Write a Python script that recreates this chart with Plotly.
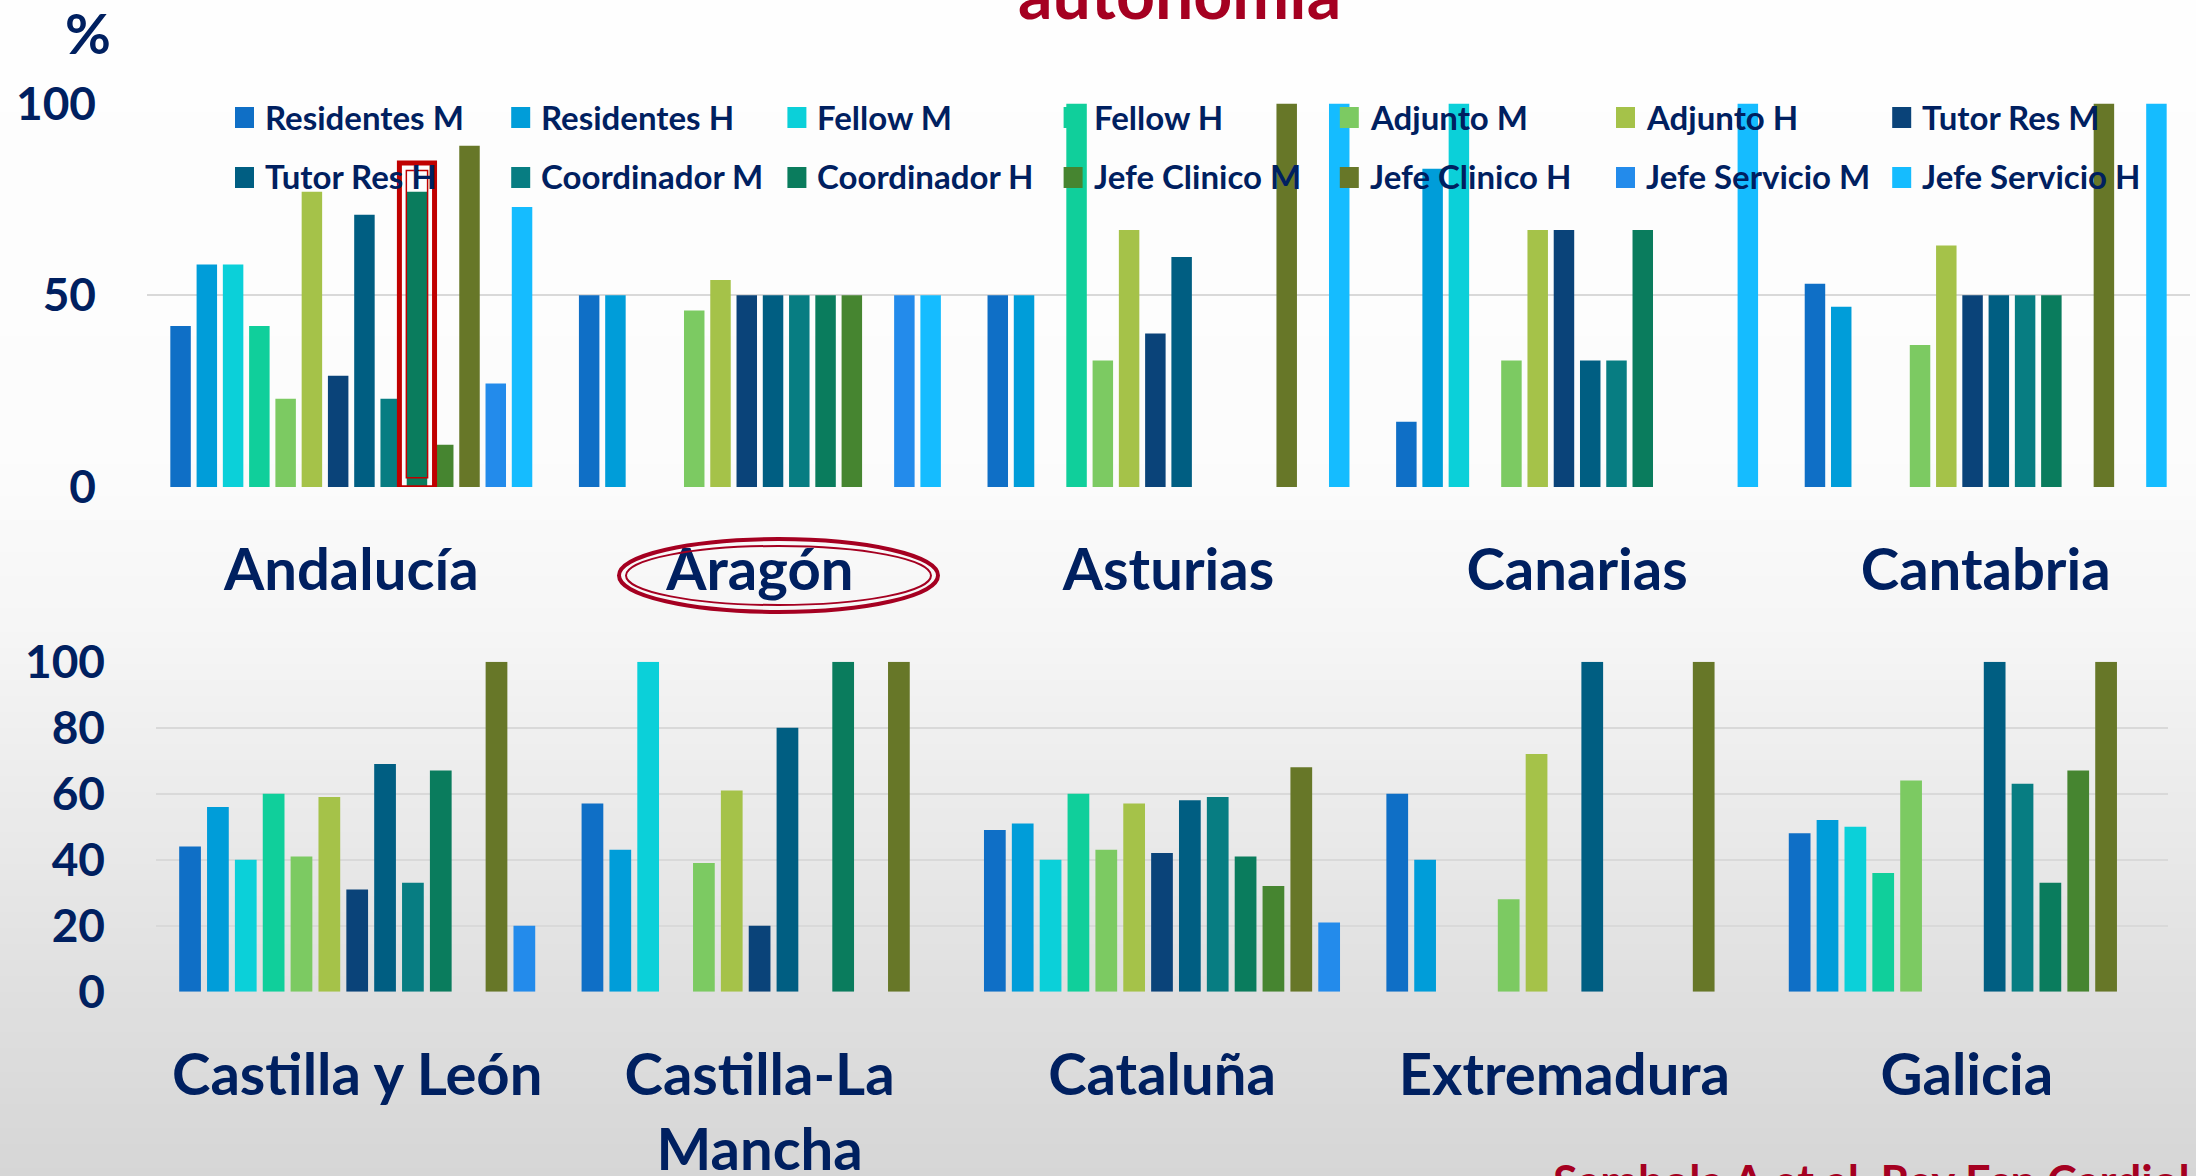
import plotly.graph_objects as go

# ---------------- data ----------------
series_names = ["Residentes M", "Residentes H", "Fellow M", "Fellow H", "Adjunto M", "Adjunto H",
                "Tutor Res M", "Tutor Res H", "Coordinador M", "Coordinador H",
                "Jefe Clinico M", "Jefe Clinico H", "Jefe Servicio M", "Jefe Servicio H"]
series_colors = ["#0F6FC6", "#009DD9", "#0BD0D9", "#10CF9B", "#7CCA62", "#A5C249",
                 "#0A4379", "#005E82", "#077D82", "#0A7C5D",
                 "#468530", "#677728", "#238BEB", "#15BCFF"]

regions_top = ["Andalucía", "Aragón", "Asturias", "Canarias", "Cantabria"]
residentes_m_top = [42, 50, 50, 17, 53]
residentes_h_top = [58, 50, 50, 83, 47]
fellow_m_top = [58, 0, 0, 100, 0]
fellow_h_top = [42, 0, 100, 0, 0]
adjunto_m_top = [23, 46, 33, 33, 37]
adjunto_h_top = [77, 54, 67, 67, 63]
tutor_m_top = [29, 50, 40, 67, 50]
tutor_h_top = [71, 50, 60, 33, 50]
coord_m_top = [23, 50, 0, 33, 50]
coord_h_top = [77, 50, 0, 67, 50]
jclin_m_top = [11, 50, 0, 0, 0]
jclin_h_top = [89, 0, 100, 0, 100]
jserv_m_top = [27, 50, 0, 0, 0]
jserv_h_top = [73, 50, 100, 100, 100]

regions_bottom = ["Castilla y León", "Castilla-La Mancha", "Cataluña", "Extremadura", "Galicia"]
residentes_m_bot = [44, 57, 49, 60, 48]
residentes_h_bot = [56, 43, 51, 40, 52]
fellow_m_bot = [40, 100, 40, 0, 50]
fellow_h_bot = [60, 0, 60, 0, 36]
adjunto_m_bot = [41, 39, 43, 28, 64]
adjunto_h_bot = [59, 61, 57, 72, 0]
tutor_m_bot = [31, 20, 42, 0, 0]
tutor_h_bot = [69, 80, 58, 100, 100]
coord_m_bot = [33, 0, 59, 0, 63]
coord_h_bot = [67, 100, 41, 0, 33]
jclin_m_bot = [0, 0, 32, 0, 67]
jclin_h_bot = [100, 100, 68, 100, 100]
jserv_m_bot = [20, 0, 21, 0, 0]

yticks_top = [0, 50, 100]
yticks_bottom = [0, 20, 40, 60, 80, 100]

top_values = [residentes_m_top, residentes_h_top, fellow_m_top, fellow_h_top, adjunto_m_top,
              adjunto_h_top, tutor_m_top, tutor_h_top, coord_m_top, coord_h_top,
              jclin_m_top, jclin_h_top, jserv_m_top, jserv_h_top]
bottom_values = [residentes_m_bot, residentes_h_bot, fellow_m_bot, fellow_h_bot, adjunto_m_bot,
                 adjunto_h_bot, tutor_m_bot, tutor_h_bot, coord_m_bot, coord_h_bot,
                 jclin_m_bot, jclin_h_bot, jserv_m_bot]

# ---------------- layout helpers ----------------
W, H = 2196, 1176
NAVY = "#002060"
RED = "#A50021"
FONT = "Lato"


def px(x):
    return x / W


def py(y):
    return 1 - y / H


fig = go.Figure()

for name, color, vals in zip(series_names, series_colors, top_values):
    fig.add_trace(go.Bar(x=regions_top, y=vals, name=name, marker_color=color,
                         marker_line_width=0, xaxis="x", yaxis="y", showlegend=False))
for name, color, vals in zip(series_names, series_colors, bottom_values):
    fig.add_trace(go.Bar(x=regions_bottom, y=vals, name=name, marker_color=color,
                         marker_line_width=0, xaxis="x2", yaxis="y2", showlegend=False))

tickfont_y = dict(family=FONT, size=46, color=NAVY, weight="bold")
tickfont_x = dict(family=FONT, size=58, color=NAVY, weight="bold")
ticktext_bottom = [r.replace("-La Mancha", "-La<br>Mancha") for r in regions_bottom]

shapes = []
# background vertical gradient (slide background)
stops = [(0, 254), (450, 252), (620, 246), (1020, 222), (1176, 214)]


def grey_at(y):
    for (y0, c0), (y1, c1) in zip(stops[:-1], stops[1:]):
        if y0 <= y <= y1:
            return c0 + (c1 - c0) * (y - y0) / (y1 - y0)
    return stops[-1][1]


band = 8
for y in range(0, H, band):
    g = int(round(grey_at(y + band / 2)))
    shapes.append(dict(type="rect", xref="paper", yref="paper", x0=0, x1=1,
                       y0=py(min(y + band, H)), y1=py(y), line_width=0,
                       fillcolor=f"rgb({g},{g},{g})", layer="below"))

annotations = []
# manual legend (2 rows x 7 columns)
for i, (name, color) in enumerate(zip(series_names, series_colors)):
    row, col = divmod(i, 7)
    x0 = 235 + col * 276.2
    yc = 117.5 + row * 60
    shapes.append(dict(type="rect", xref="paper", yref="paper", x0=px(x0), x1=px(x0 + 19),
                       y0=py(yc + 10.5), y1=py(yc - 10.5), line_width=0, fillcolor=color,
                       layer="above"))
    annotations.append(dict(text=name, xref="paper", yref="paper", x=px(x0 + 28), y=py(yc - 1),
                            xanchor="left", yanchor="middle", showarrow=False,
                            font=dict(family=FONT, size=33, color=NAVY, weight="bold")))

# highlight box around Andalucía "Coordinador H" bar
n_top = len(series_names)
slot = 0.9 / n_top
off = (series_names.index("Coordinador H") - (n_top - 1) / 2) * slot
cx = regions_top.index("Andalucía") + off
shapes.append(dict(type="rect", xref="x", yref="y", x0=cx - 0.043, x1=cx + 0.043, y0=-0.2, y1=84.5,
                   line=dict(color="#C00000", width=5), layer="above"))
shapes.append(dict(type="rect", xref="x", yref="y", x0=cx - 0.026, x1=cx + 0.026, y0=2.4, y1=82.5,
                   line=dict(color="#C00000", width=1.5), layer="above"))

# double ellipse around "Aragón"
shapes.append(dict(type="circle", xref="paper", yref="paper", x0=px(619), x1=px(938),
                   y0=py(612), y1=py(539), line=dict(color=RED, width=4), layer="above"))
shapes.append(dict(type="circle", xref="paper", yref="paper", x0=px(626), x1=px(931),
                   y0=py(605), y1=py(546), line=dict(color=RED, width=2), layer="above"))

annotations.append(dict(text="%", xref="paper", yref="paper", x=px(88), y=py(32),
                        xanchor="center", yanchor="middle", showarrow=False,
                        font=dict(family=FONT, size=56, color=NAVY, weight="bold")))
annotations.append(dict(text="autonomía", xref="paper", yref="paper", x=px(1179), y=py(35),
                        xanchor="center", yanchor="bottom", showarrow=False,
                        font=dict(family=FONT, size=68, color=RED, weight="bold")))
annotations.append(dict(text="Sambola A et al. Rev Esp Cardiol", xref="paper", yref="paper",
                        x=px(1551), y=py(1152), xanchor="left", yanchor="top", showarrow=False,
                        font=dict(family=FONT, size=45, color=RED, weight="bold")))

fig.update_layout(
    width=W, height=H,
    margin=dict(l=0, r=0, t=0, b=0, autoexpand=False),
    paper_bgcolor="white",
    plot_bgcolor="rgba(0,0,0,0)",
    barmode="group", bargap=0.1, bargroupgap=0.22,
    shapes=shapes, annotations=annotations,
    showlegend=False,
    xaxis=dict(domain=[px(147), px(2190)], anchor="y", type="category", automargin=False,
               categoryorder="array", categoryarray=regions_top,
               tickfont=tickfont_x, ticks="", ticklabelstandoff=44, showgrid=False,
               zeroline=False, showline=False),
    yaxis=dict(domain=[py(487), py(103.5)], anchor="x", range=[0, 100], automargin=False,
               tickvals=yticks_top, tickfont=tickfont_y, ticks="", ticklabelstandoff=50,
               showgrid=True, gridcolor="#D9D9D9", gridwidth=2, zeroline=False, showline=False),
    xaxis2=dict(domain=[px(156), px(2168)], anchor="y2", type="category", automargin=False,
                categoryorder="array", categoryarray=regions_bottom,
                tickvals=regions_bottom, ticktext=ticktext_bottom,
                tickfont=tickfont_x, ticks="", ticklabelstandoff=44, showgrid=False,
                zeroline=False, showline=False),
    yaxis2=dict(domain=[py(991.7), py(661.7)], anchor="x2", range=[0, 100], automargin=False,
                tickvals=yticks_bottom, tickfont=tickfont_y, ticks="", ticklabelstandoff=50,
                showgrid=True, gridcolor="#D9D9D9", gridwidth=2, zeroline=False, showline=False),
)

fig.write_html("out.html", config={"displayModeBar": False},
               post_script="document.body.style.margin='0';")
